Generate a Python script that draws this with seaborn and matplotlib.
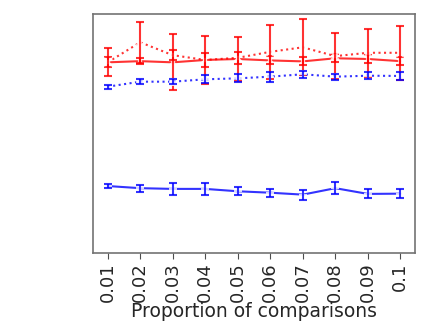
import matplotlib
matplotlib.use("Agg")
import matplotlib.pyplot as plt
import seaborn as sns
import pandas as pd

proportions = [0.01, 0.02, 0.03, 0.04, 0.05, 0.06, 0.07, 0.08, 0.09, 0.1]
tick_labels = ["0.01", "0.02", "0.03", "0.04", "0.05", "0.06", "0.07", "0.08", "0.09", "0.1"]

red_solid = [0.798, 0.803, 0.798, 0.808, 0.812, 0.806, 0.802, 0.815, 0.812, 0.803]
red_solid_err = [0.021, 0.014, 0.117, 0.100, 0.092, 0.017, 0.017, 0.017, 0.017, 0.017]

red_dotted = [0.798, 0.882, 0.828, 0.808, 0.817, 0.842, 0.861, 0.824, 0.838, 0.838]
red_dotted_err = [0.059, 0.086, 0.021, 0.029, 0.025, 0.112, 0.117, 0.096, 0.100, 0.113]

blue_dotted = [0.696, 0.717, 0.717, 0.727, 0.731, 0.738, 0.748, 0.738, 0.742, 0.741]
blue_dotted_err = [0.008, 0.010, 0.010, 0.017, 0.017, 0.021, 0.015, 0.013, 0.015, 0.017]

blue_solid = [0.280, 0.271, 0.268, 0.268, 0.258, 0.252, 0.244, 0.271, 0.247, 0.248]
blue_solid_err = [0.008, 0.015, 0.025, 0.025, 0.017, 0.017, 0.021, 0.025, 0.019, 0.019]

series = [
    (red_solid, red_solid_err, "red", "-", "x"),
    (red_dotted, red_dotted_err, "red", ":", "x"),
    (blue_dotted, blue_dotted_err, "blue", ":", "+"),
    (blue_solid, blue_solid_err, "blue", "-", "+"),
]

sns.set_style("white")
fig = plt.figure(figsize=(4.23, 3.28), dpi=100)
ax = fig.add_axes([0.22, 0.229, 0.761, 0.728])

for vals, errs, color, ls, mk in series:
    df = pd.DataFrame({"p": proportions, "v": vals})
    sns.lineplot(data=df, x="p", y="v", ax=ax, color=color, linestyle=ls,
                 marker=mk, markersize=6, markeredgewidth=1.5, alpha=0.8,
                 linewidth=1.5)
    ax.errorbar(proportions, vals, yerr=errs, fmt="none", ecolor=color,
                elinewidth=1.5, capsize=3, capthick=1.5, alpha=0.8)

ax.set_ylim(0, 1)
ax.set_xticks(proportions)
ax.set_xticklabels(tick_labels, rotation=90, fontsize=13)
ax.set_yticks([])
ax.set_ylabel("")
ax.set_xlabel("Proportion of comparisons", fontsize=13.5, labelpad=0)
ax.tick_params(axis="x", bottom=True, length=4, color="0.3", pad=3)
for sp in ax.spines.values():
    sp.set_color("0.45")
    sp.set_linewidth(1.2)

fig.savefig("out.png", dpi=100)
